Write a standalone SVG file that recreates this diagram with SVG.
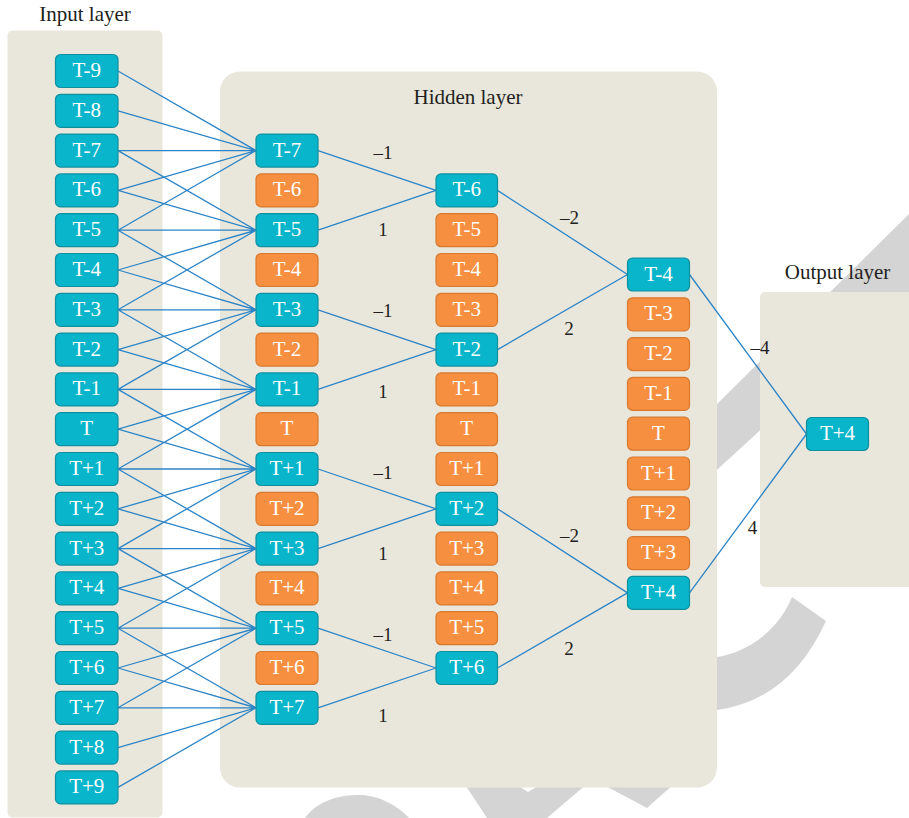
<svg xmlns="http://www.w3.org/2000/svg" width="909" height="818" viewBox="0 0 909 818">
  <style>
    .bg { fill: #ffffff; }
    .wm { fill: #d4d4d4; }
    .panel { fill: #e9e7dc; }
    .title { font-family: "Liberation Serif", "DejaVu Serif", serif; font-size: 21px; fill: #231f20; text-anchor: middle; }
    .w { font-family: "Liberation Serif", "DejaVu Serif", serif; font-size: 19px; fill: #231f20; text-anchor: middle; }
    .node text { font-family: "Liberation Serif", "DejaVu Serif", serif; font-size: 21px; fill: #ffffff; text-anchor: middle; }
    .teal rect { fill: #08b5ca; stroke: #10909f; stroke-width: 1.2; }
    .orange rect { fill: #f68f3f; stroke: #d9792f; stroke-width: 1.2; }
    .edges path { fill: none; stroke: #2c84c6; stroke-width: 1.3; }
  </style>

  <rect class="bg" x="0" y="0" width="909" height="818"/>

  <!-- grey background strokes -->
  <g id="backdrop">
    <polygon class="wm" points="909,214 909,294 600,577 600,520"/>
    <path class="wm" d="M792 597 L826 621 Q790 700 717 710 L690 712 L690 658 A99 99 0 0 0 792 597 Z"/>
    <polygon class="wm" points="464,783 487,818 547,818 588,783 543,783 528,792 514,783"/>
    <polygon class="wm" points="600,783 647,808 675,783"/>
    <path class="wm" d="M305 818 C318 800 340 795 359 795 C378 795 397 805 409 818 Z"/>
  </g>

  <!-- layer panels -->
  <g id="panels">
    <rect class="panel" x="7.5" y="30.5" width="155" height="787" rx="5"/>
    <rect class="panel" x="220" y="71.5" width="497" height="716" rx="20"/>
    <rect class="panel" x="760" y="292" width="160" height="295" rx="5"/>
  </g>

  <g id="titles">
    <text class="title" x="85" y="21">Input layer</text>
    <text class="title" x="468" y="104">Hidden layer</text>
    <text class="title" x="837.5" y="279">Output layer</text>
  </g>

  <!-- connectors -->
  <g id="connectors" class="edges">
    <path d="M118 71L256 150.6M118 110.8L256 150.6M118 150.6L256 150.6M118 190.4L256 150.6M118 230.2L256 150.6
             M118 150.6L256 230.2M118 190.4L256 230.2M118 230.2L256 230.2M118 270L256 230.2M118 309.8L256 230.2
             M118 230.2L256 309.8M118 270L256 309.8M118 309.8L256 309.8M118 349.6L256 309.8M118 389.4L256 309.8
             M118 309.8L256 389.4M118 349.6L256 389.4M118 389.4L256 389.4M118 429.2L256 389.4M118 469L256 389.4
             M118 389.4L256 469M118 429.2L256 469M118 469L256 469M118 508.8L256 469M118 548.6L256 469
             M118 469L256 548.6M118 508.8L256 548.6M118 548.6L256 548.6M118 588.4L256 548.6M118 628.2L256 548.6
             M118 548.6L256 628.2M118 588.4L256 628.2M118 628.2L256 628.2M118 668L256 628.2M118 707.8L256 628.2
             M118 628.2L256 707.8M118 668L256 707.8M118 707.8L256 707.8M118 747.6L256 707.8M118 787.4L256 707.8"/>
    <path d="M318 150.6L436 190.4M318 230.2L436 190.4
             M318 309.8L436 349.6M318 389.4L436 349.6
             M318 469L436 508.8M318 548.6L436 508.8
             M318 628.2L436 668M318 707.8L436 668"/>
    <path d="M497.5 190.4L627.5 274.5M497.5 349.6L627.5 274.5
             M497.5 508.8L627.5 592.9M497.5 668L627.5 592.9"/>
    <path d="M689.5 274.5L806.5 434M689.5 592.9L806.5 434"/>
  </g>

  <!-- connector weights -->
  <g id="weights">
    <text class="w" x="383" y="159">–1</text>
    <text class="w" x="383" y="236">1</text>
    <text class="w" x="383" y="317">–1</text>
    <text class="w" x="383" y="398">1</text>
    <text class="w" x="383" y="479">–1</text>
    <text class="w" x="383" y="560">1</text>
    <text class="w" x="383" y="641">–1</text>
    <text class="w" x="383" y="722">1</text>
    <text class="w" x="569.5" y="224">–2</text>
    <text class="w" x="569" y="334.5">2</text>
    <text class="w" x="569.5" y="542">–2</text>
    <text class="w" x="569" y="654.5">2</text>
    <text class="w" x="760" y="354">–4</text>
    <text class="w" x="752.5" y="533.5">4</text>
  </g>

  <!-- input layer -->
  <g id="input-nodes">
    <g id="in-T-9" class="node teal" transform="translate(55.5 54.5)"><rect width="62.5" height="33" rx="5"/><text x="31.25" y="22.5">T-9</text></g>
    <g id="in-T-8" class="node teal" transform="translate(55.5 94.3)"><rect width="62.5" height="33" rx="5"/><text x="31.25" y="22.5">T-8</text></g>
    <g id="in-T-7" class="node teal" transform="translate(55.5 134.1)"><rect width="62.5" height="33" rx="5"/><text x="31.25" y="22.5">T-7</text></g>
    <g id="in-T-6" class="node teal" transform="translate(55.5 173.9)"><rect width="62.5" height="33" rx="5"/><text x="31.25" y="22.5">T-6</text></g>
    <g id="in-T-5" class="node teal" transform="translate(55.5 213.7)"><rect width="62.5" height="33" rx="5"/><text x="31.25" y="22.5">T-5</text></g>
    <g id="in-T-4" class="node teal" transform="translate(55.5 253.5)"><rect width="62.5" height="33" rx="5"/><text x="31.25" y="22.5">T-4</text></g>
    <g id="in-T-3" class="node teal" transform="translate(55.5 293.3)"><rect width="62.5" height="33" rx="5"/><text x="31.25" y="22.5">T-3</text></g>
    <g id="in-T-2" class="node teal" transform="translate(55.5 333.1)"><rect width="62.5" height="33" rx="5"/><text x="31.25" y="22.5">T-2</text></g>
    <g id="in-T-1" class="node teal" transform="translate(55.5 372.9)"><rect width="62.5" height="33" rx="5"/><text x="31.25" y="22.5">T-1</text></g>
    <g id="in-T" class="node teal" transform="translate(55.5 412.7)"><rect width="62.5" height="33" rx="5"/><text x="31.25" y="22.5">T</text></g>
    <g id="in-T+1" class="node teal" transform="translate(55.5 452.5)"><rect width="62.5" height="33" rx="5"/><text x="31.25" y="22.5">T+1</text></g>
    <g id="in-T+2" class="node teal" transform="translate(55.5 492.3)"><rect width="62.5" height="33" rx="5"/><text x="31.25" y="22.5">T+2</text></g>
    <g id="in-T+3" class="node teal" transform="translate(55.5 532.1)"><rect width="62.5" height="33" rx="5"/><text x="31.25" y="22.5">T+3</text></g>
    <g id="in-T+4" class="node teal" transform="translate(55.5 571.9)"><rect width="62.5" height="33" rx="5"/><text x="31.25" y="22.5">T+4</text></g>
    <g id="in-T+5" class="node teal" transform="translate(55.5 611.7)"><rect width="62.5" height="33" rx="5"/><text x="31.25" y="22.5">T+5</text></g>
    <g id="in-T+6" class="node teal" transform="translate(55.5 651.5)"><rect width="62.5" height="33" rx="5"/><text x="31.25" y="22.5">T+6</text></g>
    <g id="in-T+7" class="node teal" transform="translate(55.5 691.3)"><rect width="62.5" height="33" rx="5"/><text x="31.25" y="22.5">T+7</text></g>
    <g id="in-T+8" class="node teal" transform="translate(55.5 731.1)"><rect width="62.5" height="33" rx="5"/><text x="31.25" y="22.5">T+8</text></g>
    <g id="in-T+9" class="node teal" transform="translate(55.5 770.9)"><rect width="62.5" height="33" rx="5"/><text x="31.25" y="22.5">T+9</text></g>
  </g>

  <!-- hidden layer, first column -->
  <g id="hidden-1">
    <g id="h1-T-7" class="node teal" transform="translate(256 134.1)"><rect width="62" height="33" rx="5"/><text x="31" y="22.5">T-7</text></g>
    <g id="h1-T-6" class="node orange" transform="translate(256 173.9)"><rect width="62" height="33" rx="5"/><text x="31" y="22.5">T-6</text></g>
    <g id="h1-T-5" class="node teal" transform="translate(256 213.7)"><rect width="62" height="33" rx="5"/><text x="31" y="22.5">T-5</text></g>
    <g id="h1-T-4" class="node orange" transform="translate(256 253.5)"><rect width="62" height="33" rx="5"/><text x="31" y="22.5">T-4</text></g>
    <g id="h1-T-3" class="node teal" transform="translate(256 293.3)"><rect width="62" height="33" rx="5"/><text x="31" y="22.5">T-3</text></g>
    <g id="h1-T-2" class="node orange" transform="translate(256 333.1)"><rect width="62" height="33" rx="5"/><text x="31" y="22.5">T-2</text></g>
    <g id="h1-T-1" class="node teal" transform="translate(256 372.9)"><rect width="62" height="33" rx="5"/><text x="31" y="22.5">T-1</text></g>
    <g id="h1-T" class="node orange" transform="translate(256 412.7)"><rect width="62" height="33" rx="5"/><text x="31" y="22.5">T</text></g>
    <g id="h1-T+1" class="node teal" transform="translate(256 452.5)"><rect width="62" height="33" rx="5"/><text x="31" y="22.5">T+1</text></g>
    <g id="h1-T+2" class="node orange" transform="translate(256 492.3)"><rect width="62" height="33" rx="5"/><text x="31" y="22.5">T+2</text></g>
    <g id="h1-T+3" class="node teal" transform="translate(256 532.1)"><rect width="62" height="33" rx="5"/><text x="31" y="22.5">T+3</text></g>
    <g id="h1-T+4" class="node orange" transform="translate(256 571.9)"><rect width="62" height="33" rx="5"/><text x="31" y="22.5">T+4</text></g>
    <g id="h1-T+5" class="node teal" transform="translate(256 611.7)"><rect width="62" height="33" rx="5"/><text x="31" y="22.5">T+5</text></g>
    <g id="h1-T+6" class="node orange" transform="translate(256 651.5)"><rect width="62" height="33" rx="5"/><text x="31" y="22.5">T+6</text></g>
    <g id="h1-T+7" class="node teal" transform="translate(256 691.3)"><rect width="62" height="33" rx="5"/><text x="31" y="22.5">T+7</text></g>
  </g>

  <!-- hidden layer, second column -->
  <g id="hidden-2">
    <g id="h2-T-6" class="node teal" transform="translate(436 173.9)"><rect width="61.5" height="33" rx="5"/><text x="30.75" y="22.5">T-6</text></g>
    <g id="h2-T-5" class="node orange" transform="translate(436 213.7)"><rect width="61.5" height="33" rx="5"/><text x="30.75" y="22.5">T-5</text></g>
    <g id="h2-T-4" class="node orange" transform="translate(436 253.5)"><rect width="61.5" height="33" rx="5"/><text x="30.75" y="22.5">T-4</text></g>
    <g id="h2-T-3" class="node orange" transform="translate(436 293.3)"><rect width="61.5" height="33" rx="5"/><text x="30.75" y="22.5">T-3</text></g>
    <g id="h2-T-2" class="node teal" transform="translate(436 333.1)"><rect width="61.5" height="33" rx="5"/><text x="30.75" y="22.5">T-2</text></g>
    <g id="h2-T-1" class="node orange" transform="translate(436 372.9)"><rect width="61.5" height="33" rx="5"/><text x="30.75" y="22.5">T-1</text></g>
    <g id="h2-T" class="node orange" transform="translate(436 412.7)"><rect width="61.5" height="33" rx="5"/><text x="30.75" y="22.5">T</text></g>
    <g id="h2-T+1" class="node orange" transform="translate(436 452.5)"><rect width="61.5" height="33" rx="5"/><text x="30.75" y="22.5">T+1</text></g>
    <g id="h2-T+2" class="node teal" transform="translate(436 492.3)"><rect width="61.5" height="33" rx="5"/><text x="30.75" y="22.5">T+2</text></g>
    <g id="h2-T+3" class="node orange" transform="translate(436 532.1)"><rect width="61.5" height="33" rx="5"/><text x="30.75" y="22.5">T+3</text></g>
    <g id="h2-T+4" class="node orange" transform="translate(436 571.9)"><rect width="61.5" height="33" rx="5"/><text x="30.75" y="22.5">T+4</text></g>
    <g id="h2-T+5" class="node orange" transform="translate(436 611.7)"><rect width="61.5" height="33" rx="5"/><text x="30.75" y="22.5">T+5</text></g>
    <g id="h2-T+6" class="node teal" transform="translate(436 651.5)"><rect width="61.5" height="33" rx="5"/><text x="30.75" y="22.5">T+6</text></g>
  </g>

  <!-- hidden layer, third column -->
  <g id="hidden-3">
    <g id="h3-T-4" class="node teal" transform="translate(627.5 258)"><rect width="62" height="33" rx="5"/><text x="31" y="22.5">T-4</text></g>
    <g id="h3-T-3" class="node orange" transform="translate(627.5 297.8)"><rect width="62" height="33" rx="5"/><text x="31" y="22.5">T-3</text></g>
    <g id="h3-T-2" class="node orange" transform="translate(627.5 337.6)"><rect width="62" height="33" rx="5"/><text x="31" y="22.5">T-2</text></g>
    <g id="h3-T-1" class="node orange" transform="translate(627.5 377.4)"><rect width="62" height="33" rx="5"/><text x="31" y="22.5">T-1</text></g>
    <g id="h3-T" class="node orange" transform="translate(627.5 417.2)"><rect width="62" height="33" rx="5"/><text x="31" y="22.5">T</text></g>
    <g id="h3-T+1" class="node orange" transform="translate(627.5 457)"><rect width="62" height="33" rx="5"/><text x="31" y="22.5">T+1</text></g>
    <g id="h3-T+2" class="node orange" transform="translate(627.5 496.8)"><rect width="62" height="33" rx="5"/><text x="31" y="22.5">T+2</text></g>
    <g id="h3-T+3" class="node orange" transform="translate(627.5 536.6)"><rect width="62" height="33" rx="5"/><text x="31" y="22.5">T+3</text></g>
    <g id="h3-T+4" class="node teal" transform="translate(627.5 576.4)"><rect width="62" height="33" rx="5"/><text x="31" y="22.5">T+4</text></g>
  </g>

  <!-- output layer -->
  <g id="output-nodes">
    <g id="out-T+4" class="node teal" transform="translate(806.5 417.5)"><rect width="62" height="33" rx="5"/><text x="31" y="22.5">T+4</text></g>
  </g>
</svg>
